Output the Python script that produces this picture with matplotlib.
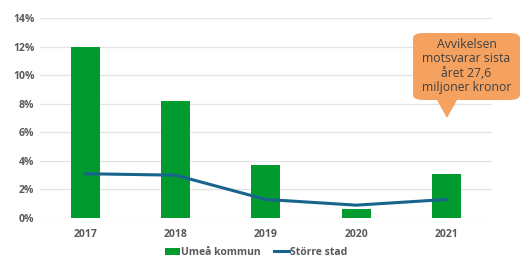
import matplotlib.pyplot as plt
from matplotlib.patches import FancyBboxPatch, Polygon
from matplotlib.ticker import PercentFormatter

plt.rcParams["font.family"] = ["Open Sans", "DejaVu Sans"]

years = ["2017", "2018", "2019", "2020", "2021"]
umea = [12.0, 8.2, 3.7, 0.6, 3.1]
storre_stad = [3.1, 3.0, 1.3, 0.9, 1.3]
callout = "Avvikelsen\nmotsvarar sista\nåret 27,6\nmiljoner kronor"

fig = plt.figure(figsize=(5.26, 2.58), dpi=100)
ax = fig.add_axes([0.076, 0.155, 0.859, 0.775])

x = range(len(years))
bars = ax.bar(x, umea, width=0.32, color="#009A2E", label="Umeå kommun",
              zorder=2)
line, = ax.plot(x, storre_stad, color="#17648C", linewidth=2.2,
                label="Större stad", zorder=3)

ax.set_xlim(-0.5, 4.5)
ax.set_ylim(0, 14)
ax.set_yticks(range(0, 15, 2))
ax.yaxis.set_major_formatter(PercentFormatter(decimals=0))
ax.set_xticks(list(x))
ax.set_xticklabels(years)
ax.grid(axis="y", color="#E3E3E3", linewidth=0.9, zorder=0)
for s in ax.spines.values():
    s.set_visible(False)
ax.tick_params(length=0, labelsize=7.5, labelcolor="#595959", pad=4)
for lbl in ax.get_xticklabels() + ax.get_yticklabels():
    lbl.set_fontweight("bold")
ax.tick_params(axis="x", pad=8)

fig.legend(handles=[bars, line], loc="center", bbox_to_anchor=(0.487, 0.022),
           ncol=2, frameon=False, labelcolor="#595959",
           handlelength=1.5, handletextpad=0.1, columnspacing=1.2,
           borderpad=0, prop={"weight": "bold", "size": 7.5})

# callout box
W, H = 526, 258
box = FancyBboxPatch((413 / W, (H - 100) / H), 107 / W, 67 / H,
                     boxstyle="round,pad=0,rounding_size=0.02",
                     transform=fig.transFigure, facecolor="#F5A261",
                     edgecolor="none")
fig.patches.append(box)
tri = Polygon([(437 / W, (H - 100) / H), (457 / W, (H - 100) / H),
               (447 / W, (H - 118) / H)], closed=True,
              transform=fig.transFigure, facecolor="#F5A261",
              edgecolor="none")
fig.patches.append(tri)
fig.text(466.5 / W, (H - 66) / H, callout, ha="center", va="center",
         fontsize=8.8, color="#404040", linespacing=1.15)

fig.savefig("out.png", dpi=100)
